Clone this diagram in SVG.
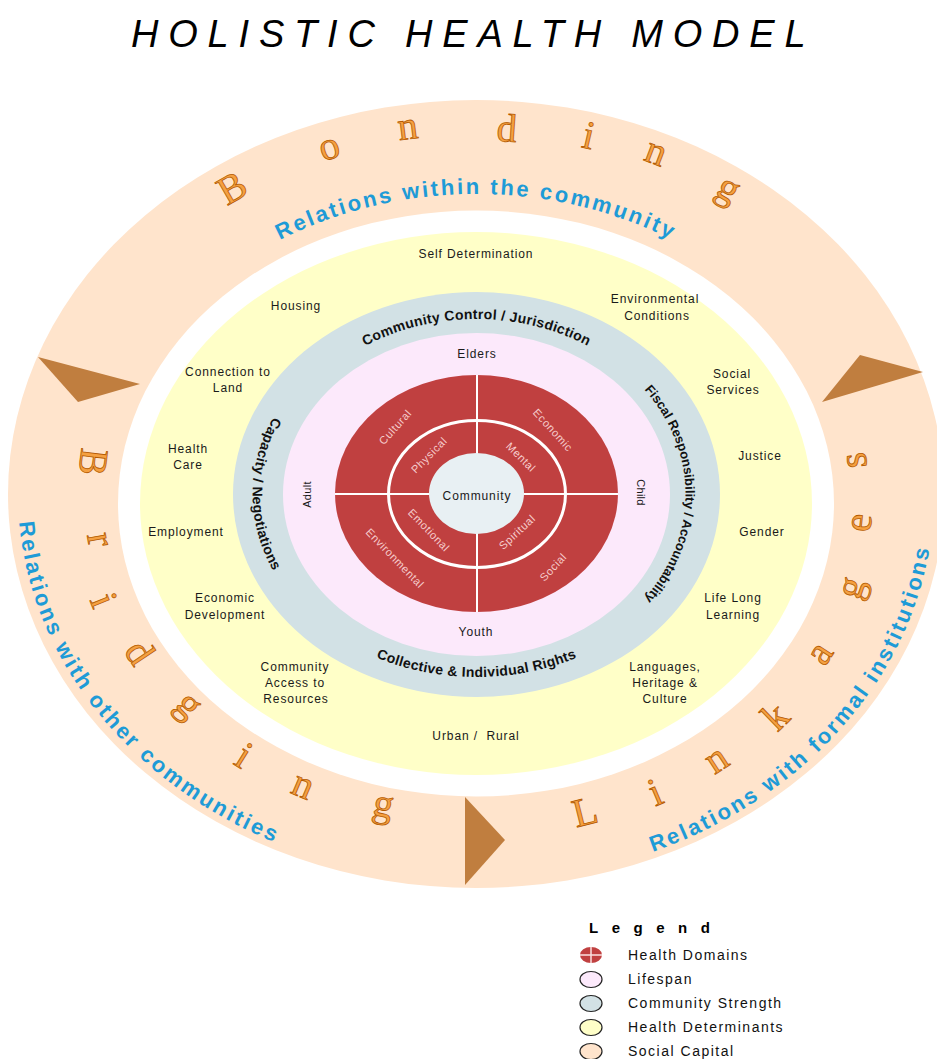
<svg xmlns="http://www.w3.org/2000/svg" width="937" height="1059" viewBox="0 0 937 1059">
<defs>
<style>
.lbl{font-family:"Liberation Sans",Arial,sans-serif;font-size:12px;fill:#1a1a1a;letter-spacing:0.9px;text-anchor:middle}
.dom{font-family:"Liberation Sans",Arial,sans-serif;font-size:11px;fill:#f6cccc;letter-spacing:0.6px;text-anchor:middle}
.ring{font-family:"Liberation Sans",Arial,sans-serif;font-size:14px;font-weight:bold;fill:#111;letter-spacing:0.3px;text-anchor:middle}
.blue{font-family:"Liberation Sans",Arial,sans-serif;font-size:22px;font-weight:bold;fill:#1e9bd7;letter-spacing:2.5px}
.big{font-family:"Liberation Serif","Times New Roman",serif;font-size:40px;fill:#f5a041;stroke:#b45a00;stroke-width:0.8;text-anchor:middle}
.leg{font-family:"Liberation Sans",Arial,sans-serif;font-size:14px;fill:#111;letter-spacing:1.5px}
.arrow{fill:#c07e3f}
.legico{stroke:#222;stroke-width:1.2}
</style>
<path id="pTopBlue" d="M 108,494 A 368 300 0 0 1 844,494"/>
<path id="pLeftBlue" d="M 18,494 A 458 388 0 0 0 476,882"/>
<path id="pRightBlue" d="M 476,882 A 458 388 0 0 0 934,494"/>
<path id="pTopRing" d="M 267.5,494 A 209 175 0 0 1 685.5,494"/>
<path id="pRightRing" d="M 476.5,319 A 209 175 0 0 1 476.5,669"/>
<path id="pBotRing" d="M 252.5,494 A 224 183 0 0 0 700.5,494"/>
<path id="pLeftRing" d="M 476.5,311 A 224 183 0 0 0 476.5,677"/>
</defs>
<rect width="937" height="1059" fill="#ffffff"/>

<g id="title">
<text x="131" y="47" font-family="Liberation Sans, Arial, sans-serif" font-style="italic" font-size="38" letter-spacing="9.8" fill="#000">HOLISTIC HEALTH MODEL</text>
</g>

<g id="social-capital">
<ellipse cx="476" cy="494" rx="468" ry="394" fill="#ffe4cc"/>
<ellipse cx="476" cy="503.5" rx="358" ry="293" fill="#ffffff"/>
</g>

<g id="connectors">
<polygon class="arrow" points="38,357 140,384 78,402"/>
<polygon class="arrow" points="860,355 923,372 822,402"/>
<polygon class="arrow" points="465,797 505,840 465,885"/>
</g>

<g id="social-capital-labels">
<text class="blue" text-anchor="middle"><textPath href="#pTopBlue" startOffset="50%">Relations within the community</textPath></text>
<text class="blue"><textPath href="#pLeftBlue" startOffset="28">Relations with other communities</textPath></text>
<text class="blue"><textPath href="#pRightBlue" startOffset="180">Relations with formal institutions</textPath></text>

<text class="big" transform="translate(232,188) rotate(-30)" y="13">B</text>
<text class="big" transform="translate(330,150) rotate(-17)" y="9">o</text>
<text class="big" transform="translate(408,130) rotate(-7)" y="9">n</text>
<text class="big" transform="translate(507,128) rotate(4)" y="13.5">d</text>
<text class="big" transform="translate(589,135) rotate(13)" y="13.5">i</text>
<text class="big" transform="translate(655,155) rotate(21)" y="9">n</text>
<text class="big" transform="translate(725,195) rotate(31)" y="4.5">g</text>

<text class="big" transform="translate(93,462) rotate(97)" y="13">B</text>
<text class="big" transform="translate(97,540) rotate(80)" y="9">r</text>
<text class="big" transform="translate(104,600) rotate(68)" y="13.5">i</text>
<text class="big" transform="translate(140,652) rotate(56)" y="13.5">d</text>
<text class="big" transform="translate(184,710) rotate(44)" y="4.5">g</text>
<text class="big" transform="translate(244,755) rotate(32)" y="13.5">i</text>
<text class="big" transform="translate(302,788) rotate(23)" y="9">n</text>
<text class="big" transform="translate(382,812) rotate(12)" y="4.5">g</text>

<text class="big" transform="translate(585,812) rotate(-14)" y="13">L</text>
<text class="big" transform="translate(655,792) rotate(-23)" y="13.5">i</text>
<text class="big" transform="translate(718,762) rotate(-33)" y="9">n</text>
<text class="big" transform="translate(775,716) rotate(-44)" y="13.5">k</text>
<text class="big" transform="translate(822,655) rotate(-57)" y="9">a</text>
<text class="big" transform="translate(858,590) rotate(-71)" y="4.5">g</text>
<text class="big" transform="translate(862,523) rotate(-84)" y="9">e</text>
<text class="big" transform="translate(857,460) rotate(-97)" y="9">s</text>
</g>

<g id="health-determinants">
<ellipse cx="476" cy="503.5" rx="336" ry="271.5" fill="#ffffc8"/>
<text class="lbl" x="476" y="258">Self Determination</text>
<text class="lbl" x="296" y="310">Housing</text>
<text class="lbl" x="655" y="303">Environmental</text>
<text class="lbl" x="657" y="320">Conditions</text>
<text class="lbl" x="228" y="376">Connection to</text>
<text class="lbl" x="228" y="392">Land</text>
<text class="lbl" x="732" y="378">Social</text>
<text class="lbl" x="733" y="394">Services</text>
<text class="lbl" x="188" y="453">Health</text>
<text class="lbl" x="188" y="469">Care</text>
<text class="lbl" x="760" y="460">Justice</text>
<text class="lbl" x="186" y="536">Employment</text>
<text class="lbl" x="762" y="536">Gender</text>
<text class="lbl" x="225" y="602">Economic</text>
<text class="lbl" x="225" y="619">Development</text>
<text class="lbl" x="733" y="602">Life Long</text>
<text class="lbl" x="733" y="619">Learning</text>
<text class="lbl" x="295" y="671">Community</text>
<text class="lbl" x="295" y="687">Access to</text>
<text class="lbl" x="296" y="703">Resources</text>
<text class="lbl" x="665" y="671">Languages,</text>
<text class="lbl" x="665" y="687">Heritage &amp;</text>
<text class="lbl" x="665" y="703">Culture</text>
<text class="lbl" x="476" y="740" xml:space="preserve">Urban /  Rural</text>
</g>

<g id="community-strength">
<ellipse cx="476.5" cy="494.5" rx="243.5" ry="202.5" fill="#d2e1e5"/>
<text class="ring"><textPath href="#pTopRing" startOffset="50%">Community Control / Jurisdiction</textPath></text>
<text class="ring" style="font-size:13px;letter-spacing:0"><textPath href="#pRightRing" startOffset="50%">Fiscal Responsibility / Accountability</textPath></text>
<text class="ring"><textPath href="#pBotRing" startOffset="50%">Collective &amp; Individual Rights</textPath></text>
<text class="ring"><textPath href="#pLeftRing" startOffset="50%">Capacity / Negotiations</textPath></text>
</g>

<g id="lifespan">
<ellipse cx="476.5" cy="494.5" rx="193.5" ry="161.5" fill="#fce9fb"/>
<text class="lbl" x="477" y="358">Elders</text>
<text class="lbl" x="476" y="636">Youth</text>
<text class="lbl" style="font-size:11px;letter-spacing:0.3px" transform="translate(306.5,494.5) rotate(-90)" y="4">Adult</text>
<text class="lbl" style="font-size:11px;letter-spacing:0.3px" transform="translate(641,492.5) rotate(90)" y="4">Child</text>
</g>

<g id="health-domains">
<ellipse cx="476.5" cy="493.5" rx="141.5" ry="118.5" fill="#c04040"/>
<line x1="477" y1="375" x2="477" y2="612" stroke="#ffffff" stroke-width="2"/>
<line x1="335" y1="494" x2="618" y2="494" stroke="#ffffff" stroke-width="2"/>
<ellipse cx="477" cy="494" rx="88.5" ry="73.5" fill="none" stroke="#ffffff" stroke-width="3"/>
<text class="dom" transform="translate(395,427) rotate(-48)" y="4">Cultural</text>
<text class="dom" transform="translate(553,430) rotate(48)" y="4">Economic</text>
<text class="dom" transform="translate(429,455) rotate(-45)" y="4">Physical</text>
<text class="dom" transform="translate(521,457) rotate(45)" y="4">Mental</text>
<text class="dom" transform="translate(429,530) rotate(46)" y="4">Emotional</text>
<text class="dom" transform="translate(517,532) rotate(-43)" y="4">Spiritual</text>
<text class="dom" transform="translate(395,558) rotate(46)" y="4">Environmental</text>
<text class="dom" transform="translate(553,567) rotate(-47)" y="4">Social</text>
</g>

<g id="community">
<ellipse cx="476.5" cy="493.5" rx="47.5" ry="40.5" fill="#e8f0f3"/>
<text class="lbl" x="477" y="499.5">Community</text>
</g>

<g id="legend">
<text x="589" y="933" font-family="Liberation Sans, Arial, sans-serif" font-size="15" font-weight="bold" letter-spacing="13.5" fill="#000">Legend</text>
<ellipse cx="591" cy="955" rx="11" ry="8" fill="#c04040"/>
<line x1="591" y1="947" x2="591" y2="963" stroke="#fbe0e0" stroke-width="1.5"/>
<line x1="580" y1="955" x2="602" y2="955" stroke="#fbe0e0" stroke-width="1.5"/>
<ellipse class="legico" cx="591" cy="979.5" rx="11" ry="8" fill="#fce9fb"/>
<ellipse class="legico" cx="591" cy="1003.5" rx="11" ry="8" fill="#d2e1e5"/>
<ellipse class="legico" cx="591" cy="1027.5" rx="11" ry="8" fill="#ffffc8"/>
<ellipse class="legico" cx="591" cy="1051.5" rx="11" ry="8" fill="#ffe4cc"/>
<text class="leg" x="628" y="960">Health Domains</text>
<text class="leg" x="628" y="984">Lifespan</text>
<text class="leg" x="628" y="1008">Community Strength</text>
<text class="leg" x="628" y="1032">Health Determinants</text>
<text class="leg" x="628" y="1056">Social Capital</text>
</g>
</svg>
